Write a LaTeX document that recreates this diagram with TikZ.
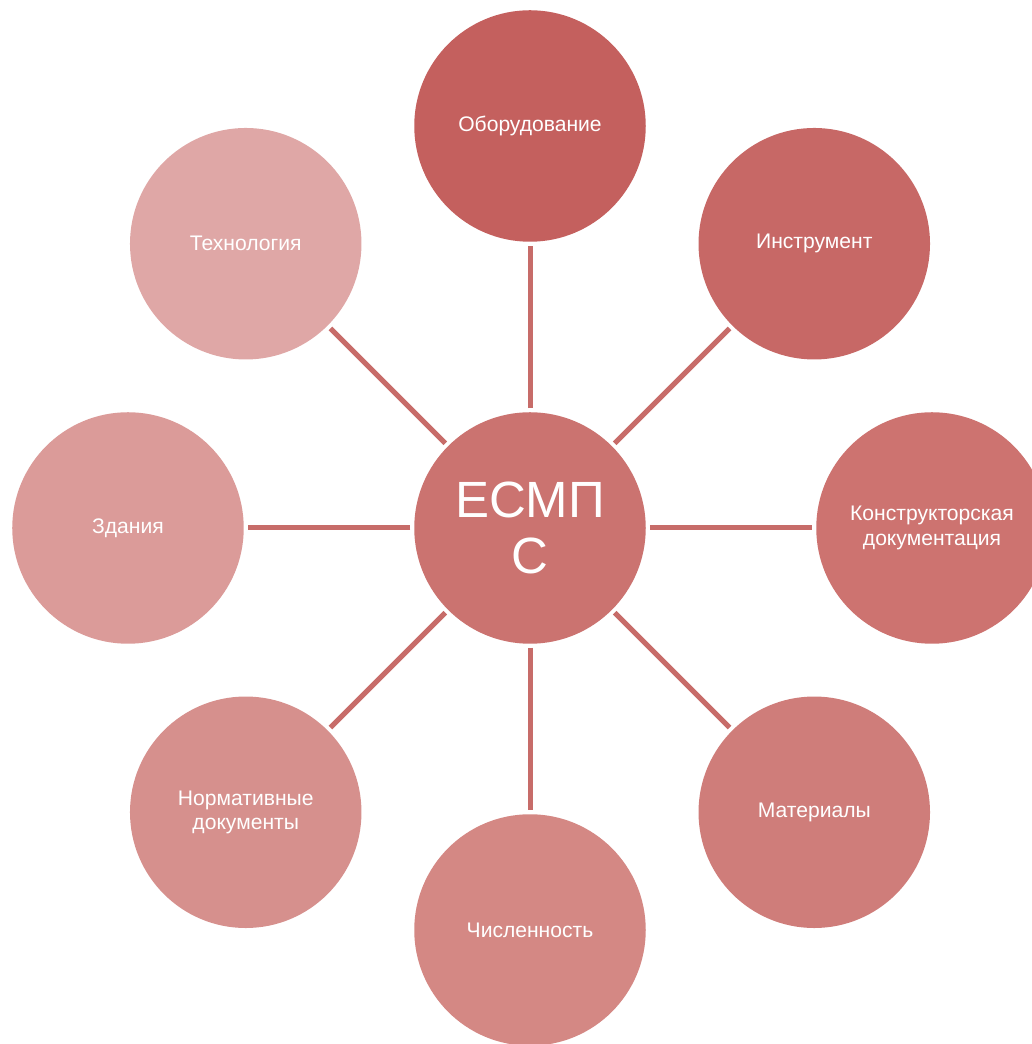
\documentclass[tikz,border=0pt]{standalone}
\usepackage{fontspec}
\setmainfont{Liberation Sans}
\usetikzlibrary{positioning}
\definecolor{esmp hub color}{HTML}{CB7370}
\definecolor{esmp line}{HTML}{C76C69}
\tikzset{
    esmp circle/.style={
        circle,
        minimum size=4.63cm,
        inner sep=0pt,
        outer sep=0pt,
        draw=none,
        text=white,
        align=center,
        font=\fontsize{12}{13.8}\selectfont
    },
    esmp hub/.style={esmp circle, fill=esmp hub color, font=\fontsize{29}{32}\selectfont},
    esmp color/.style={fill={rgb,255:#1}},
    esmp link/.style={draw=esmp line, line width=0.1cm, shorten >=0.08cm, shorten <=0.08cm}
}

\begin{document}
\begin{tikzpicture}
\useasboundingbox (-10.6,-10.32) rectangle (10.02,10.56);

% Central node and the eight nodes around it
\node[esmp hub] (hub) at (0,0) {ЕСМП\\С};
\node[esmp circle, esmp color={red,196;green,96;blue,94}]    (equip)  at (90:8.04)   {Оборудование};
\node[esmp circle, esmp color={red,199;green,104;blue,102}]  (tool)   at (45:8.04)   {Инструмент};
\node[esmp circle, esmp color={red,205;green,115;blue,112}]  (design) at (0:8.04)    {Конструкторская\\документация};
\node[esmp circle, esmp color={red,207;green,125;blue,122}]  (mat)    at (-45:8.04)  {Материалы};
\node[esmp circle, esmp color={red,212;green,136;blue,132}]  (staff)  at (-90:8.04)  {Численность};
\node[esmp circle, esmp color={red,214;green,144;blue,141}]  (norm)   at (-135:8.04) {Нормативные\\документы};
\node[esmp circle, esmp color={red,219;green,155;blue,153}]  (build)  at (180:8.04)  {Здания};
\node[esmp circle, esmp color={red,223;green,167;blue,166}]  (tech)   at (135:8.04)  {Технология};

% Spokes from the hub
\draw[esmp link] (hub) -- (equip);
\draw[esmp link] (hub) -- (tool);
\draw[esmp link] (hub) -- (design);
\draw[esmp link] (hub) -- (mat);
\draw[esmp link] (hub) -- (staff);
\draw[esmp link] (hub) -- (norm);
\draw[esmp link] (hub) -- (build);
\draw[esmp link] (hub) -- (tech);

\end{tikzpicture}
\end{document}
